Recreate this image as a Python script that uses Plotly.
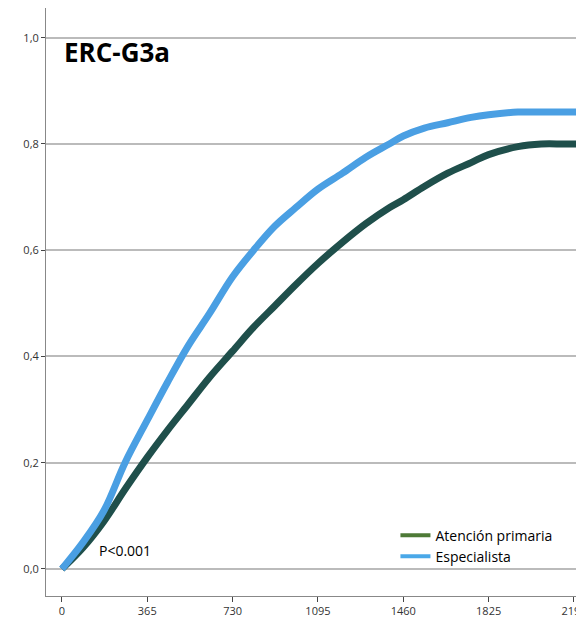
import plotly.graph_objects as go

# Datos (días, proporción acumulada)
dias_esp = [0, 90, 180, 270, 365, 450, 540, 630, 730, 820, 910, 1000, 1095, 1200, 1300,
            1400, 1460, 1550, 1650, 1750, 1825, 1950, 2050, 2150, 2250]
esp = [0.0, 0.05, 0.11, 0.20, 0.28, 0.35, 0.42, 0.48, 0.55, 0.60, 0.645, 0.68, 0.715, 0.745, 0.775,
       0.80, 0.815, 0.83, 0.84, 0.85, 0.855, 0.86, 0.86, 0.86, 0.86]
dias_ap = [0, 90, 180, 270, 365, 450, 540, 630, 730, 820, 910, 1000, 1095, 1200, 1300,
           1400, 1460, 1550, 1650, 1750, 1825, 1950, 2050, 2150, 2250]
ap = [0.0, 0.04, 0.09, 0.15, 0.21, 0.26, 0.31, 0.36, 0.41, 0.455, 0.495, 0.535, 0.575, 0.615, 0.65,
      0.68, 0.695, 0.72, 0.745, 0.765, 0.78, 0.795, 0.80, 0.80, 0.80]

ticks_x = [0, 365, 730, 1095, 1460, 1825, 2190]
ticks_y = [0, 0.2, 0.4, 0.6, 0.8, 1.0]
etiquetas_y = ["0,0", "0,2", "0,4", "0,6", "0,8", "1,0"]

fig = go.Figure()
fig.add_trace(go.Scatter(x=dias_ap, y=ap, mode="lines", line=dict(color="#1f4f4b", width=7, shape="spline"),
                         showlegend=False))
fig.add_trace(go.Scatter(x=dias_esp, y=esp, mode="lines", line=dict(color="#4a9fe3", width=7, shape="spline"),
                         showlegend=False))
# Entradas de la leyenda
fig.add_trace(go.Scatter(x=[None], y=[None], mode="lines", line=dict(color="#4e7a37", width=4),
                         name="Atención primaria"))
fig.add_trace(go.Scatter(x=[None], y=[None], mode="lines", line=dict(color="#4aa8e8", width=4),
                         name="Especialista"))

fig.add_annotation(x=0.03, y=0.96, xref="paper", yref="paper", text="<b>ERC-G3a</b>", showarrow=False,
                   xanchor="left", yanchor="top", font=dict(size=26, color="black"))
fig.add_annotation(x=270, y=0.035, text="P<0.001", showarrow=False, font=dict(size=14, color="black"))

fig.update_layout(
    width=584, height=624, margin=dict(l=38, r=0, t=0, b=36),
    plot_bgcolor="white", paper_bgcolor="white",
    font=dict(family="Open Sans, Arial", color="black"),
    legend=dict(x=0.64, y=0.13, xanchor="left", yanchor="top", font=dict(size=14),
                bgcolor="rgba(0,0,0,0)", tracegroupgap=0),
    xaxis=dict(range=[-68, 2267], tickvals=ticks_x, ticks="outside", ticklen=5, tickcolor="#444",
               automargin=False, showgrid=False, showline=True, linecolor="#888", zeroline=False,
               tickfont=dict(size=11, color="#333")),
    yaxis=dict(range=[-0.051, 1.056], tickvals=ticks_y, ticktext=etiquetas_y, ticks="outside", ticklen=4,
               automargin=False, tickcolor="#444", showgrid=True, gridcolor="#bbb", gridwidth=1.5,
               showline=True, linecolor="#888", zeroline=False, tickfont=dict(size=11, color="#333")),
)

fig.write_html("out.html")
